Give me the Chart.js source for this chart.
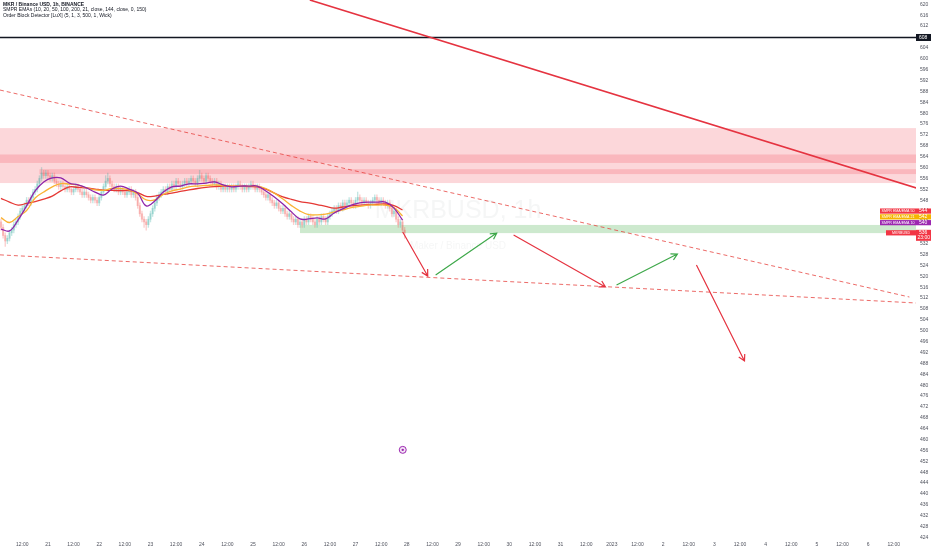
<!DOCTYPE html>
<html><head><meta charset="utf-8">
<script src="https://cdn.jsdelivr.net/npm/chart.js@4"></script>
<style>html,body{margin:0;padding:0;background:#fff;overflow:hidden}#wrap{width:932px;height:550px}</style>
</head><body><div id="wrap"><canvas id="c" width="932" height="550"></canvas></div>
<script>
// ---- DATA ----
const firstCandleHour = 2; // hours since 20 Dec 00:00, 1h candles
const opens = [540,538,535,533,534,536,537,539,540,542, 544,545,546,548,547,549,551,552,554,556, 558,557,558,557,556,557,555,554,553,554, 553,552,553,552,551,552,553,552,551,550, 551,550,549,548,549,548,547,549,551,553, 555,556,554,553,552,553,551,552,551,550, 551,552,550,551,549,546,543,541,540,539, 541,543,545,547,549,550,551,552,551,553, 552,554,553,555,554,553,554,555,554,555, 556,555,554,556,557,556,555,557,556,555, 554,555,553,554,552,553,552,553,552,553, 552,553,554,553,552,553,552,553,554,553, 552,553,552,551,550,549,550,548,547,546, 547,545,544,545,543,542,543,541,540,541, 539,540,539,541,540,542,541,540,539,541, 540,542,541,540,542,543,544,545,544,546, 545,547,546,547,548,547,546,548,549,548, 547,548,547,546,547,548,549,548,547,548, 547,546,547,545,543,544,541,539,540,537];
const closes = [538,535,533,534,536,537,539,540,542,544, 545,546,548,547,549,551,552,554,556,558, 557,558,557,556,557,555,554,553,554,553, 552,553,552,551,552,553,552,551,550,551, 550,549,548,549,548,547,549,551,553,555, 556,554,553,552,553,551,552,551,550,551, 552,550,551,549,546,543,541,540,539,541, 543,545,547,549,550,551,552,551,553,552, 554,553,555,554,553,554,555,554,555,556, 555,554,556,557,556,555,557,556,555,554, 555,553,554,552,553,552,553,552,553,552, 553,554,553,552,553,552,553,554,553,552, 553,552,551,550,549,550,548,547,546,547, 545,544,545,543,542,543,541,540,541,539, 540,539,541,540,542,541,540,539,541,540, 542,541,540,542,543,544,545,544,546,545, 547,546,547,548,547,546,548,549,548,547, 548,547,546,547,548,549,548,547,548,547, 546,547,545,543,544,541,539,540,537,536];
const highs = [541,539,536,535,537,538,540,541,543,545, 546,547,549,549,550,552,553,555,557,560, 559,559,559,558,558,558,556,555,555,555, 554,554,554,553,553,554,554,553,552,552, 552,551,550,550,550,549,550,552,554,557, 558,557,555,554,554,554,553,553,552,552, 553,553,552,552,550,547,544,542,541,542, 544,546,548,550,551,552,553,553,554,554, 555,555,556,556,555,555,556,556,556,557, 557,556,557,559,558,557,558,558,557,556, 556,556,555,555,554,554,554,554,554,554, 554,555,555,554,554,554,554,555,555,554, 554,554,553,552,551,551,551,549,548,548, 548,546,546,546,544,544,544,542,542,542, 541,541,542,542,543,543,542,541,542,542, 543,543,542,543,544,545,546,546,547,547, 548,548,548,549,549,548,549,551,550,549, 549,549,548,548,549,550,550,549,549,549, 548,548,548,546,545,545,542,541,541,538];
const lows = [537,534,531,532,533,535,536,538,539,541, 543,544,545,546,546,548,550,551,553,555, 556,556,556,555,555,554,553,552,552,552, 551,551,551,550,550,551,551,550,549,549, 549,548,547,547,547,546,546,548,550,552, 554,553,552,551,551,550,550,550,549,549, 550,549,549,548,545,542,540,538,537,538, 540,542,544,546,548,549,550,550,550,551, 551,552,552,553,552,552,553,553,553,554, 554,553,553,555,555,554,554,555,554,553, 553,552,552,551,551,551,551,551,551,551, 551,552,552,551,551,551,551,552,552,551, 551,551,550,549,548,548,547,546,545,545, 544,543,543,542,541,541,540,539,539,538, 538,538,538,539,539,540,539,538,538,539, 539,540,539,539,541,542,543,543,543,544, 544,545,545,546,546,545,545,547,547,546, 546,546,545,545,546,547,547,546,546,546, 545,545,544,542,542,540,538,538,536,534];
const emaFirstHour = 2, emaStepHours = 4;
const ema10 = [537.4,536.7,540.7,545.9,551.4,554.7,556.2,556.2,554.3,553.6, 552.5,551.0,549.9,552.1,553.2,552.1,550.6,545.9,547.7,551.0, 552.9,553.2,554.0,554.0,554.3,554.7,553.6,552.9,553.2,553.2, 553.2,551.4,549.2,546.6,543.7,541.1,541.1,541.5,541.1,543.3, 544.8,546.2,547.0,547.3,547.3,547.3,545.1,540.7];
const ema21 = [541.6,539.8,542.0,544.2,548.8,551.0,552.9,554.1,553.9,553.6, 552.5,551.8,551.6,552.3,552.3,551.8,550.3,548.1,548.1,550.1, 551.4,552.1,552.9,553.2,553.4,553.6,553.4,553.2,553.2,553.2, 553.2,552.3,550.6,548.4,546.0,544.0,542.7,542.6,542.9,543.7, 544.4,545.3,545.7,546.2,546.2,546.2,545.3,542.2];
const ema50 = [548.7,547.3,546.2,546.8,547.5,548.4,549.5,551.4,552.9,552.7, 552.5,552.1,551.7,551.6,551.5,551.5,550.8,549.4,549.5,550.1, 550.6,551.2,551.8,552.3,552.7,553.0,553.2,553.2,553.1,553.0, 552.9,552.1,550.6,549.2,548.3,547.5,547.0,546.4,545.7,545.1, 545.5,545.9,546.2,546.4,546.5,546.6,546.0,544.4];
const xTickHours = [12,24,36,48,60,72,84,96,108,120,132,144,156,168,180,192,204,216,228,240,252,264,276,288,300,312,324,336,348,360,372,384,396,408,420];
const xTickLabels = ["12:00","21","12:00","22","12:00","23","12:00","24","12:00","25","12:00","26","12:00","27","12:00","28","12:00","29","12:00","30","12:00","31","12:00","2023","12:00","2","12:00","3","12:00","4","12:00","5","12:00","6","12:00"];
const yTickValues = [620,616,612,608,604,600,596,592,588,584,580,576,572,568,564,560,556,552,548,544,540,536,532,528,524,520,516,512,508,504,500,496,492,488,484,480,476,472,468,464,460,456,452,448,444,440,436,432,428,424];
const horizontalLevel = 608;
// zones: [hourStart, hourEnd, priceTop, priceBottom]
const pinkZones = [[-20,440,574.5,554.3],[-20,440,564.8,561.7],[20,440,559.4,557.6]];
const greenZones = [[142,440,538.9,535.9]];
// lines: [h1,p1,h2,p2]
const dashedLines = [[1.5,588.5,427.3,512.4],[1.5,527.9,430.5,510.2]];
const solidLines = [[146.6,621.6,430.5,552.5]];
const redArrows = [[190.1,536.3,201.8,520.1],[242,535.2,285,516.1],[327.6,524.2,350.1,488.9]];
const greenArrows = [[205.5,520.5,234.1,535.9],[290.2,516.8,318.7,528.2]];
const eventMarker = [190.1,456.2];
const lastPrice = 536, countdown = "23:00";
const emaTags = [{name:"SMPR EMA/EMA 50",value:544,color:"#f23645"},{name:"SMPR EMA/EMA 21",value:542,color:"#f5b400"},{name:"SMPR EMA/EMA 10",value:540,color:"#9c27b0"}];
const legendLines = ["MKR / Binance USD, 1h, BINANCE","SMPR EMAs (10, 20, 50, 100, 200, 21, close, 144, close, 0, 150)","Order Block Detector [LuX] (5, 1, 3, 500, 1, Wick)"];
const watermark = "MKRBUSD, 1h", watermarkSub = "Maker / Binance USD";

// ---- BUILD ----
const candleHour = i => firstCandleHour + i;
const emaPts = arr => arr.map((v,i)=>({x: emaFirstHour + i*emaStepHours, y: v}));
const upCol = 'rgba(38,166,154,0.28)', dnCol = 'rgba(239,83,80,0.28)';
const candleColor = ctx => (closes[ctx.dataIndex] >= opens[ctx.dataIndex]) ? upCol : dnCol;
const FONT = '"Liberation Sans", Arial, sans-serif';

const overlay = {
  id: 'overlay',
  beforeDatasetsDraw(chart) {
    const {ctx, chartArea: a, scales: {x, y}} = chart;
    ctx.save();
    ctx.beginPath(); ctx.rect(a.left, a.top, a.right - a.left, a.bottom - a.top); ctx.clip();
    // watermark
    ctx.fillStyle = 'rgba(120,123,134,0.07)';
    ctx.font = '25px ' + FONT; ctx.textAlign = 'center'; ctx.textBaseline = 'middle';
    ctx.fillText(watermark, (a.left + a.right) / 2, y.getPixelForValue(544));
    ctx.font = '10px ' + FONT;
    ctx.fillText(watermarkSub, (a.left + a.right) / 2, y.getPixelForValue(531));
    // zones
    ctx.fillStyle = 'rgba(242,54,69,0.2)';
    pinkZones.forEach(z => {
      const x1 = x.getPixelForValue(z[0]), x2 = x.getPixelForValue(z[1]);
      const y1 = y.getPixelForValue(z[2]), y2 = y.getPixelForValue(z[3]);
      ctx.fillRect(x1, y1, x2 - x1, y2 - y1);
    });
    ctx.fillStyle = 'rgba(76,175,80,0.28)';
    greenZones.forEach(z => {
      const x1 = x.getPixelForValue(z[0]), x2 = x.getPixelForValue(z[1]);
      const y1 = y.getPixelForValue(z[2]), y2 = y.getPixelForValue(z[3]);
      ctx.fillRect(x1, y1, x2 - x1, y2 - y1);
    });
    ctx.restore();
  },
  afterDatasetsDraw(chart) {
    const {ctx, chartArea: a, scales: {x, y}} = chart;
    const P = (h, p) => [x.getPixelForValue(h), y.getPixelForValue(p)];
    ctx.save();
    ctx.beginPath(); ctx.rect(a.left, a.top, a.right - a.left, a.bottom - a.top); ctx.clip();
    // horizontal level
    ctx.strokeStyle = '#131722'; ctx.lineWidth = 1.3;
    const yl = Math.round(y.getPixelForValue(horizontalLevel)) + 0.5;
    ctx.beginPath(); ctx.moveTo(a.left, yl); ctx.lineTo(a.right, yl); ctx.stroke();
    // dashed
    ctx.strokeStyle = 'rgba(229,57,53,0.75)'; ctx.lineWidth = 1; ctx.setLineDash([4, 3]);
    dashedLines.forEach(l => { const p1 = P(l[0], l[1]), p2 = P(l[2], l[3]);
      ctx.beginPath(); ctx.moveTo(...p1); ctx.lineTo(...p2); ctx.stroke(); });
    ctx.setLineDash([]);
    ctx.strokeStyle = '#e53340'; ctx.lineWidth = 1.6;
    solidLines.forEach(l => { const p1 = P(l[0], l[1]), p2 = P(l[2], l[3]);
      ctx.beginPath(); ctx.moveTo(...p1); ctx.lineTo(...p2); ctx.stroke(); });
    const arrow = (l, col) => {
      const [x1, y1] = P(l[0], l[1]), [x2, y2] = P(l[2], l[3]);
      const ang = Math.atan2(y2 - y1, x2 - x1), hl = 7;
      ctx.strokeStyle = col; ctx.lineWidth = 1.2;
      ctx.beginPath(); ctx.moveTo(x1, y1); ctx.lineTo(x2, y2);
      ctx.moveTo(x2 - hl * Math.cos(ang - 0.5), y2 - hl * Math.sin(ang - 0.5)); ctx.lineTo(x2, y2);
      ctx.lineTo(x2 - hl * Math.cos(ang + 0.5), y2 - hl * Math.sin(ang + 0.5));
      ctx.stroke();
    };
    redArrows.forEach(l => arrow(l, '#e53340'));
    greenArrows.forEach(l => arrow(l, '#3ea84a'));
    // event marker
    const [ex, ey] = P(eventMarker[0], eventMarker[1]);
    ctx.beginPath(); ctx.arc(ex, ey, 3.5, 0, Math.PI * 2);
    ctx.fillStyle = '#f3e5f5'; ctx.fill(); ctx.strokeStyle = '#9c27b0'; ctx.lineWidth = 1; ctx.stroke();
    ctx.beginPath(); ctx.arc(ex, ey, 1.2, 0, Math.PI * 2); ctx.fillStyle = '#9c27b0'; ctx.fill();
    ctx.restore();
  },
  afterDraw(chart) {
    const {ctx, chartArea: a, scales: {y}} = chart;
    ctx.save();
    ctx.textBaseline = 'middle';
    // legend
    ctx.textAlign = 'left'; ctx.fillStyle = '#131722';
    legendLines.forEach((t, i) => { ctx.font = (i === 0 ? 'bold ' : '') + '5px ' + FONT; ctx.fillText(t, 3, 4.5 + i * 5.6); });
    // axis tags
    const boxX = a.right, boxW = chart.width - a.right;
    const tag = (yc, txt, bg, fg, h) => { ctx.fillStyle = bg; ctx.fillRect(boxX, yc - h / 2, boxW - 1, h);
      ctx.fillStyle = fg; ctx.font = '5px ' + FONT; ctx.textAlign = 'left'; ctx.fillText(txt, boxX + 3, yc); };
    tag(y.getPixelForValue(horizontalLevel) + 0.5, String(horizontalLevel), '#131722', '#fff', 7);
    let prev = -100;
    emaTags.forEach(t => {
      let yc = y.getPixelForValue(t.value); if (yc < prev + 5.8) yc = prev + 5.8; prev = yc;
      ctx.fillStyle = t.color; ctx.fillRect(a.right - 36, yc - 2.6, 36, 5.2);
      ctx.fillStyle = '#fff'; ctx.font = '3.6px ' + FONT; ctx.textAlign = 'center';
      ctx.fillText(t.name, a.right - 18, yc);
      tag(yc, String(t.value), t.color, '#fff', 5.2);
    });
    let yp = y.getPixelForValue(lastPrice); if (yp < prev + 8) yp = prev + 8;
    ctx.fillStyle = '#f23645'; ctx.fillRect(a.right - 30, yp - 2.6, 30, 5.2);
    ctx.fillStyle = '#fff'; ctx.font = '3.6px ' + FONT; ctx.textAlign = 'center';
    ctx.fillText('MKRBUSD', a.right - 15, yp);
    ctx.fillStyle = '#f23645'; ctx.fillRect(boxX, yp - 3, boxW - 1, 11);
    ctx.fillStyle = '#fff'; ctx.font = '5px ' + FONT; ctx.textAlign = 'left';
    ctx.fillText(String(lastPrice), boxX + 3, yp); ctx.fillText(countdown, boxX + 1.5, yp + 5);
    ctx.restore();
  }
};

new Chart(document.getElementById('c'), {
  type: 'bar',
  data: { datasets: [
    { type: 'line', data: emaPts(ema10), borderColor: '#8e24aa', borderWidth: 1.3, pointRadius: 0, tension: 0.4, order: 0 },
    { type: 'line', data: emaPts(ema21), borderColor: '#f9b233', borderWidth: 1.3, pointRadius: 0, tension: 0.4, order: 1 },
    { type: 'line', data: emaPts(ema50), borderColor: '#e53935', borderWidth: 1.3, pointRadius: 0, tension: 0.4, order: 2 },
    { type: 'bar', data: closes.map((c, i) => ({ x: candleHour(i), y: [opens[i], c] })), backgroundColor: candleColor, barThickness: 1.6, minBarLength: 1, grouped: false, order: 3 },
    { type: 'bar', data: closes.map((c, i) => ({ x: candleHour(i), y: [lows[i], highs[i]] })), backgroundColor: candleColor, barThickness: 0.7, grouped: false, order: 4 }
  ]},
  options: {
    responsive: false, animation: false, devicePixelRatio: 1,
    layout: { padding: 0, autoPadding: false },
    plugins: { legend: { display: false }, tooltip: { enabled: false } },
    scales: {
      x: { type: 'linear', min: 1.54, max: 430.4, offset: false, grid: { display: false, drawTicks: false }, border: { display: false },
        afterBuildTicks: s => { s.ticks = xTickHours.map(v => ({ value: v })); },
        afterFit: s => { s.height = 12; s.paddingLeft = 0; s.paddingRight = 0; },
        ticks: { autoSkip: false, maxRotation: 0, padding: 4, color: '#50535e', font: { size: 5, family: FONT },
          callback: v => { const k = xTickHours.indexOf(v); return k >= 0 ? xTickLabels[k] : ''; } } },
      y: { type: 'linear', position: 'right', min: 423.8, max: 621.6, grid: { display: false, drawTicks: false }, border: { display: false },
        afterBuildTicks: s => { s.ticks = yTickValues.map(v => ({ value: v })); },
        afterFit: s => { s.width = 16; s.paddingTop = 0; s.paddingBottom = 0; },
        ticks: { autoSkip: false, padding: 4, color: '#50535e', font: { size: 5, family: FONT } } }
    }
  },
  plugins: [overlay]
});
</script></body></html>
